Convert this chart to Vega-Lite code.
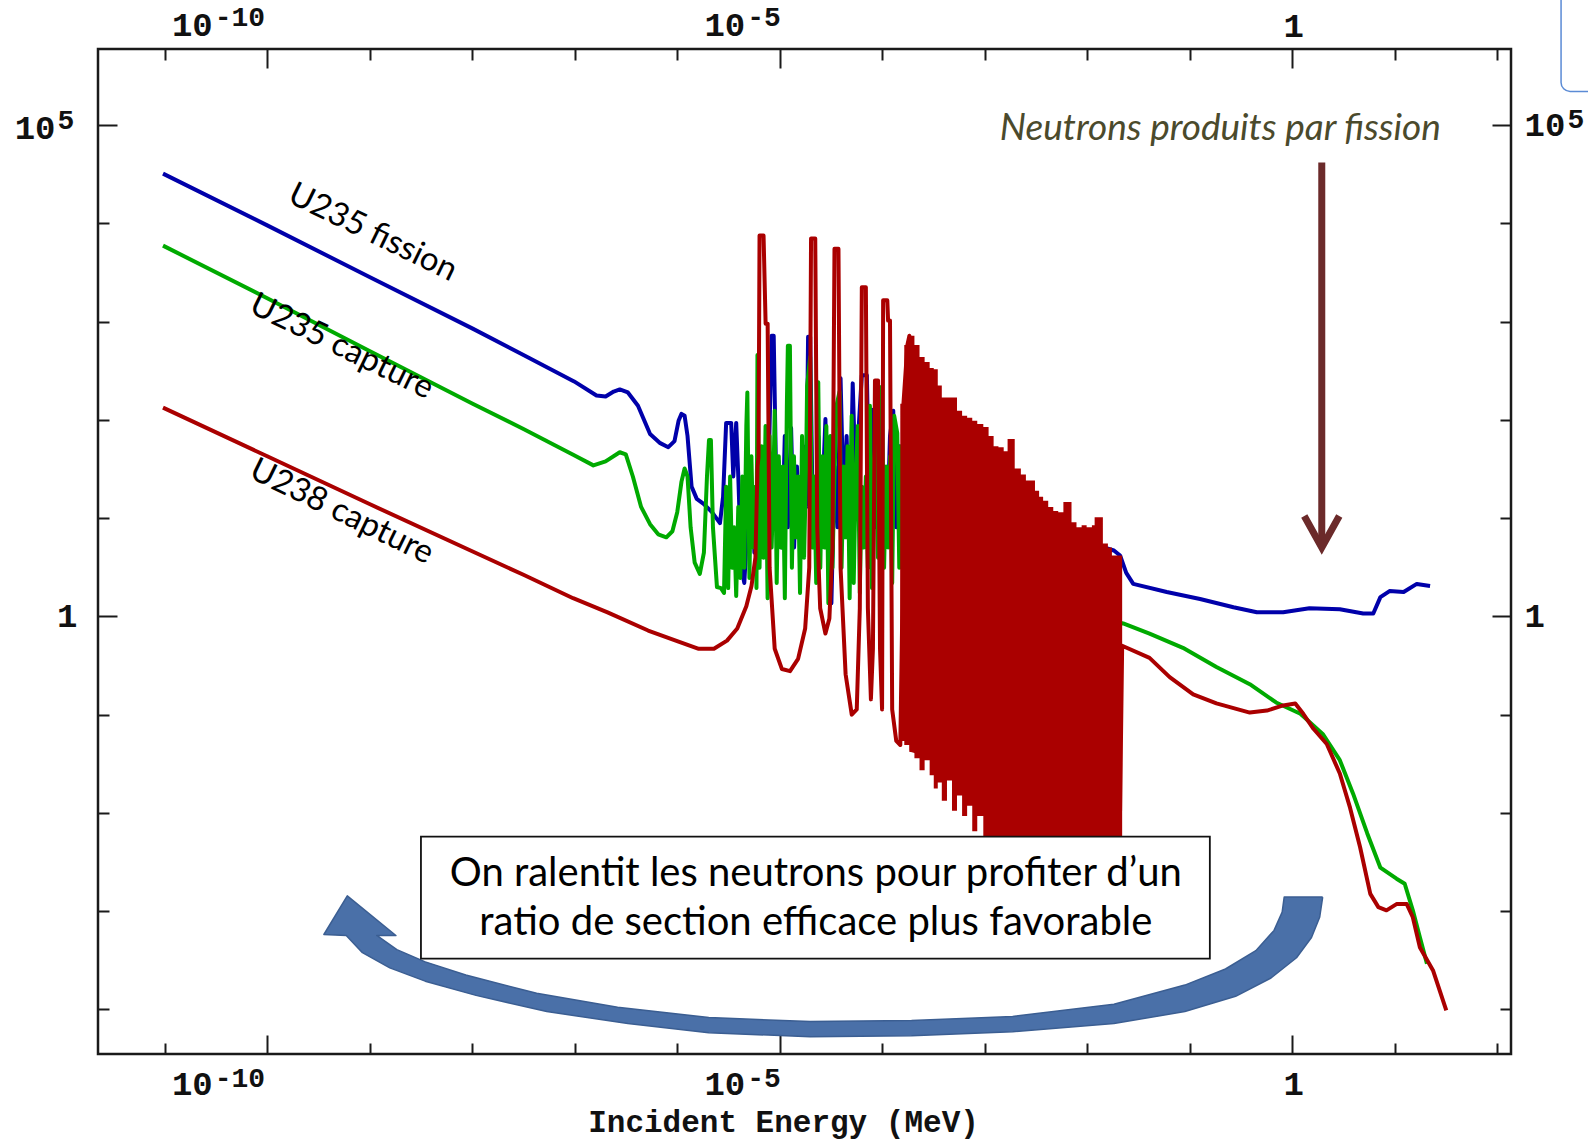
{
  "$schema": "https://vega.github.io/schema/vega-lite/v6.json",
  "width": 1413,
  "height": 1005,
  "autosize": {"type": "none"},
  "padding": {"left": 98, "top": 49, "right": 77, "bottom": 86},
  "background": "white",
  "config": {
    "view": {"stroke": "#1a1a1a", "strokeWidth": 2.5},
    "axis": {
      "grid": false,
      "domain": false,
      "tickColor": "#1a1a1a",
      "tickWidth": 2,
      "labelColor": "#111111",
      "labelFont": "Liberation Mono, DejaVu Sans Mono",
      "labelFontWeight": "bold",
      "labelFontSize": 34,
      "labelOverlap": false,
      "labelFlush": false
    }
  },
  "data": {"values": [{}]},
  "datasets": {
    "fission235": [
      {"energy": 9.62e-12, "sigma": 32000}, {"energy": 1.0e-10, "sigma": 9530}, {"energy": 9.95e-10, "sigma": 2840},
      {"energy": 1.01e-8, "sigma": 847}, {"energy": 3.16e-8, "sigma": 457}, {"energy": 9.86e-8, "sigma": 246},
      {"energy": 1.63e-7, "sigma": 177}, {"energy": 2.00e-7, "sigma": 173}, {"energy": 2.40e-7, "sigma": 194},
      {"energy": 2.75e-7, "sigma": 204}, {"energy": 3.30e-7, "sigma": 190}, {"energy": 4.14e-7, "sigma": 139},
      {"energy": 5.43e-7, "sigma": 71.8}, {"energy": 6.82e-7, "sigma": 57.9}, {"energy": 8.18e-7, "sigma": 52.7},
      {"energy": 9.40e-7, "sigma": 60.8}, {"energy": 1.03e-6, "sigma": 97.7}, {"energy": 1.10e-6, "sigma": 115},
      {"energy": 1.18e-6, "sigma": 110}, {"energy": 1.26e-6, "sigma": 68.4}, {"energy": 1.38e-6, "sigma": 20.9},
      {"energy": 1.55e-6, "sigma": 15.7}, {"energy": 1.82e-6, "sigma": 13.9}, {"energy": 2.18e-6, "sigma": 11.5},
      {"energy": 2.61e-6, "sigma": 8.88}, {"energy": 2.80e-6, "sigma": 16.5}, {"energy": 3.00e-6, "sigma": 93.1},
      {"energy": 3.36e-6, "sigma": 93.1}, {"energy": 3.52e-6, "sigma": 26.5}, {"energy": 3.76e-6, "sigma": 93.1},
      {"energy": 3.94e-6, "sigma": 26.5}, {"energy": 4.22e-6, "sigma": 3.13}, {"energy": 4.51e-6, "sigma": 2.19},
      {"energy": 4.83e-6, "sigma": 8.07}, {"energy": 5.30e-6, "sigma": 20.9}, {"energy": 5.66e-6, "sigma": 4.46},
      {"energy": 6.07e-6, "sigma": 26.5}, {"energy": 6.49e-6, "sigma": 6.37}, {"energy": 6.95e-6, "sigma": 33.6},
      {"energy": 7.45e-6, "sigma": 5.02}, {"energy": 7.96e-6, "sigma": 86.7}, {"energy": 8.34e-6, "sigma": 718},
      {"energy": 8.73e-6, "sigma": 718}, {"energy": 9.14e-6, "sigma": 42.6}, {"energy": 9.77e-6, "sigma": 37.8},
      {"energy": 1.05e-5, "sigma": 5.02}, {"energy": 1.12e-5, "sigma": 68.4}, {"energy": 1.20e-5, "sigma": 8.07},
      {"energy": 1.29e-5, "sigma": 82.8}, {"energy": 1.38e-5, "sigma": 5.02}, {"energy": 1.47e-5, "sigma": 33.6},
      {"energy": 1.58e-5, "sigma": 6.37}, {"energy": 1.69e-5, "sigma": 54.0}, {"energy": 1.81e-5, "sigma": 13.0},
      {"energy": 1.89e-5, "sigma": 700}, {"energy": 1.98e-5, "sigma": 700}, {"energy": 2.07e-5, "sigma": 26.5},
      {"energy": 2.22e-5, "sigma": 5.02}, {"energy": 2.38e-5, "sigma": 68.4}, {"energy": 2.54e-5, "sigma": 8.07},
      {"energy": 2.79e-5, "sigma": 102}, {"energy": 2.99e-5, "sigma": 5.02}, {"energy": 3.19e-5, "sigma": 1.36},
      {"energy": 3.42e-5, "sigma": 33.6}, {"energy": 3.66e-5, "sigma": 8.07}, {"energy": 3.92e-5, "sigma": 265},
      {"energy": 4.20e-5, "sigma": 13.0}, {"energy": 4.49e-5, "sigma": 68.4}, {"energy": 4.81e-5, "sigma": 6.37},
      {"energy": 5.15e-5, "sigma": 235}, {"energy": 5.51e-5, "sigma": 20.9}, {"energy": 5.90e-5, "sigma": 86.7},
      {"energy": 6.32e-5, "sigma": 284}, {"energy": 7.08e-5, "sigma": 284}, {"energy": 7.41e-5, "sigma": 20.9},
      {"energy": 7.93e-5, "sigma": 127}, {"energy": 8.49e-5, "sigma": 8.07}, {"energy": 9.10e-5, "sigma": 68.4},
      {"energy": 9.73e-5, "sigma": 13.0}, {"energy": 1.04e-4, "sigma": 33.6}, {"energy": 1.12e-4, "sigma": 8.07},
      {"energy": 1.19e-4, "sigma": 68.4}, {"energy": 1.28e-4, "sigma": 124}, {"energy": 1.37e-4, "sigma": 8.07},
      {"energy": 1.47e-4, "sigma": 54.0}, {"energy": 1.57e-4, "sigma": 10.2}, {"energy": 1.68e-4, "sigma": 86.7},
      {"energy": 1.80e-4, "sigma": 13.0}, {"energy": 6.01e-4, "sigma": 13.0}, {"energy": 1.87e-3, "sigma": 8.07},
      {"energy": 5.85e-3, "sigma": 6.37}, {"energy": 1.45e-2, "sigma": 5.02}, {"energy": 1.82e-2, "sigma": 4.68},
      {"energy": 2.09e-2, "sigma": 4.16}, {"energy": 2.40e-2, "sigma": 2.77}, {"energy": 2.81e-2, "sigma": 2.14},
      {"energy": 5.96e-2, "sigma": 1.77}, {"energy": 0.126, "sigma": 1.50}, {"energy": 0.267, "sigma": 1.24},
      {"energy": 0.451, "sigma": 1.10}, {"energy": 0.815, "sigma": 1.10}, {"energy": 1.47, "sigma": 1.21},
      {"energy": 2.91, "sigma": 1.18}, {"energy": 4.92, "sigma": 1.07}, {"energy": 6.17, "sigma": 1.07},
      {"energy": 7.24, "sigma": 1.57}, {"energy": 8.89, "sigma": 1.81}, {"energy": 12.2, "sigma": 1.77},
      {"energy": 16.4, "sigma": 2.14}, {"energy": 22.1, "sigma": 2.04}
    ],
    "capture235": [
      {"energy": 9.62e-12, "sigma": 5930}, {"energy": 1.0e-10, "sigma": 1726}, {"energy": 9.95e-10, "sigma": 502},
      {"energy": 1.01e-8, "sigma": 146}, {"energy": 3.16e-8, "sigma": 80.7}, {"energy": 9.86e-8, "sigma": 43.6},
      {"energy": 1.52e-7, "sigma": 34.4}, {"energy": 2.00e-7, "sigma": 37.8}, {"energy": 2.75e-7, "sigma": 46.8},
      {"energy": 3.15e-7, "sigma": 44.6}, {"energy": 3.69e-7, "sigma": 26.5}, {"energy": 4.44e-7, "sigma": 13.0},
      {"energy": 5.43e-7, "sigma": 8.67}, {"energy": 6.52e-7, "sigma": 6.84}, {"energy": 7.83e-7, "sigma": 6.37},
      {"energy": 8.97e-7, "sigma": 7.35}, {"energy": 1.00e-6, "sigma": 11.5}, {"energy": 1.10e-6, "sigma": 23.5},
      {"energy": 1.18e-6, "sigma": 32.0}, {"energy": 1.26e-6, "sigma": 26.5}, {"energy": 1.35e-6, "sigma": 8.07},
      {"energy": 1.48e-6, "sigma": 3.52}, {"energy": 1.66e-6, "sigma": 2.71}, {"energy": 1.82e-6, "sigma": 4.46},
      {"energy": 1.95e-6, "sigma": 26.5}, {"energy": 2.04e-6, "sigma": 62.2}, {"energy": 2.13e-6, "sigma": 62.2},
      {"energy": 2.23e-6, "sigma": 8.07}, {"energy": 2.44e-6, "sigma": 1.99}, {"energy": 2.67e-6, "sigma": 1.94},
      {"energy": 2.86e-6, "sigma": 1.73}, {"energy": 3.00e-6, "sigma": 20.9}, {"energy": 3.14e-6, "sigma": 1.94},
      {"energy": 3.28e-6, "sigma": 26.5}, {"energy": 3.43e-6, "sigma": 3.13}, {"energy": 3.59e-6, "sigma": 8.07},
      {"energy": 3.76e-6, "sigma": 1.61}, {"energy": 3.94e-6, "sigma": 13.0}, {"energy": 4.12e-6, "sigma": 2.46},
      {"energy": 4.31e-6, "sigma": 26.5}, {"energy": 4.51e-6, "sigma": 3.13}, {"energy": 4.72e-6, "sigma": 86.7},
      {"energy": 4.83e-6, "sigma": 190}, {"energy": 5.06e-6, "sigma": 2.46}, {"energy": 5.29e-6, "sigma": 42.6},
      {"energy": 5.54e-6, "sigma": 5.02}, {"energy": 5.79e-6, "sigma": 20.9}, {"energy": 5.93e-6, "sigma": 1.94},
      {"energy": 6.06e-6, "sigma": 457}, {"energy": 6.35e-6, "sigma": 3.13}, {"energy": 6.64e-6, "sigma": 54.0},
      {"energy": 6.95e-6, "sigma": 3.96}, {"energy": 7.27e-6, "sigma": 86.7}, {"energy": 7.61e-6, "sigma": 1.53},
      {"energy": 7.97e-6, "sigma": 68.4}, {"energy": 8.34e-6, "sigma": 5.02}, {"energy": 8.73e-6, "sigma": 33.6},
      {"energy": 8.93e-6, "sigma": 124}, {"energy": 9.34e-6, "sigma": 2.19}, {"energy": 9.78e-6, "sigma": 42.6},
      {"energy": 1.023e-5, "sigma": 5.02}, {"energy": 1.071e-5, "sigma": 33.6}, {"energy": 1.121e-5, "sigma": 1.53},
      {"energy": 1.173e-5, "sigma": 139}, {"energy": 1.200e-5, "sigma": 566}, {"energy": 1.256e-5, "sigma": 566},
      {"energy": 1.314e-5, "sigma": 3.13}, {"energy": 1.376e-5, "sigma": 42.6}, {"energy": 1.440e-5, "sigma": 6.37},
      {"energy": 1.507e-5, "sigma": 26.5}, {"energy": 1.577e-5, "sigma": 1.73}, {"energy": 1.650e-5, "sigma": 68.4},
      {"energy": 1.727e-5, "sigma": 3.96}, {"energy": 1.807e-5, "sigma": 33.6}, {"energy": 1.849e-5, "sigma": 224},
      {"energy": 1.980e-5, "sigma": 436}, {"energy": 2.072e-5, "sigma": 5.02}, {"energy": 2.168e-5, "sigma": 26.5},
      {"energy": 2.269e-5, "sigma": 2.19}, {"energy": 2.375e-5, "sigma": 241}, {"energy": 2.486e-5, "sigma": 3.13},
      {"energy": 2.602e-5, "sigma": 42.6}, {"energy": 2.722e-5, "sigma": 5.02}, {"energy": 2.849e-5, "sigma": 86.7},
      {"energy": 2.981e-5, "sigma": 1.36}, {"energy": 3.120e-5, "sigma": 68.4}, {"energy": 3.266e-5, "sigma": 3.13},
      {"energy": 3.418e-5, "sigma": 26.5}, {"energy": 3.577e-5, "sigma": 139}, {"energy": 3.830e-5, "sigma": 194},
      {"energy": 4.008e-5, "sigma": 3.13}, {"energy": 4.195e-5, "sigma": 33.6}, {"energy": 4.390e-5, "sigma": 6.37},
      {"energy": 4.594e-5, "sigma": 54.0}, {"energy": 4.808e-5, "sigma": 1.53}, {"energy": 5.031e-5, "sigma": 110},
      {"energy": 5.266e-5, "sigma": 2.19}, {"energy": 5.511e-5, "sigma": 26.5}, {"energy": 5.768e-5, "sigma": 86.7},
      {"energy": 6.036e-5, "sigma": 1.73}, {"energy": 6.317e-5, "sigma": 20.9}, {"energy": 6.611e-5, "sigma": 5.02},
      {"energy": 6.918e-5, "sigma": 26.5}, {"energy": 7.241e-5, "sigma": 3.13}, {"energy": 7.577e-5, "sigma": 139},
      {"energy": 7.929e-5, "sigma": 1.94}, {"energy": 8.300e-5, "sigma": 33.6}, {"energy": 8.687e-5, "sigma": 68.4},
      {"energy": 9.091e-5, "sigma": 3.96}, {"energy": 9.301e-5, "sigma": 214}, {"energy": 9.956e-5, "sigma": 214},
      {"energy": 1.042e-4, "sigma": 3.13}, {"energy": 1.091e-4, "sigma": 33.6}, {"energy": 1.141e-4, "sigma": 5.02},
      {"energy": 1.195e-4, "sigma": 42.6}, {"energy": 1.250e-4, "sigma": 2.19}, {"energy": 1.308e-4, "sigma": 110},
      {"energy": 1.401e-4, "sigma": 73.5}, {"energy": 1.466e-4, "sigma": 3.13}, {"energy": 1.534e-4, "sigma": 54.0},
      {"energy": 1.605e-4, "sigma": 3.96}, {"energy": 1.680e-4, "sigma": 26.5}, {"energy": 1.719e-4, "sigma": 1.21},
      {"energy": 6.01e-4, "sigma": 1.53}, {"energy": 1.87e-3, "sigma": 1.21}, {"energy": 5.85e-3, "sigma": 1.00},
      {"energy": 1.82e-2, "sigma": 0.888}, {"energy": 2.24e-2, "sigma": 0.847}, {"energy": 4.05e-2, "sigma": 0.668},
      {"energy": 8.57e-2, "sigma": 0.479}, {"energy": 0.182, "sigma": 0.305}, {"energy": 0.385, "sigma": 0.204},
      {"energy": 0.695, "sigma": 0.133}, {"energy": 1.20, "sigma": 0.102}, {"energy": 1.98, "sigma": 0.0637},
      {"energy": 2.91, "sigma": 0.0344}, {"energy": 3.92, "sigma": 0.0157}, {"energy": 5.38, "sigma": 0.00622},
      {"energy": 7.24, "sigma": 0.00277}, {"energy": 10.4, "sigma": 0.00214}, {"energy": 12.5, "sigma": 0.00190},
      {"energy": 15.0, "sigma": 0.00102}, {"energy": 17.6, "sigma": 0.00054}, {"energy": 20.6, "sigma": 0.000291}
    ],
    "capture238": [
      {"energy": 9.62e-12, "sigma": 133}, {"energy": 1.0e-10, "sigma": 42.6}, {"energy": 9.95e-10, "sigma": 13.9},
      {"energy": 1.01e-8, "sigma": 4.57}, {"energy": 3.16e-8, "sigma": 2.65}, {"energy": 9.64e-8, "sigma": 1.53},
      {"energy": 2.09e-7, "sigma": 1.10}, {"energy": 5.20e-7, "sigma": 0.718}, {"energy": 1.03e-6, "sigma": 0.552},
      {"energy": 1.62e-6, "sigma": 0.468}, {"energy": 2.28e-6, "sigma": 0.468}, {"energy": 3.06e-6, "sigma": 0.566},
      {"energy": 3.85e-6, "sigma": 0.752}, {"energy": 4.72e-6, "sigma": 1.27}, {"energy": 5.30e-6, "sigma": 2.04},
      {"energy": 5.79e-6, "sigma": 3.96}, {"energy": 6.07e-6, "sigma": 33.6}, {"energy": 6.21e-6, "sigma": 41.6},
      {"energy": 6.35e-6, "sigma": 7520}, {"energy": 6.95e-6, "sigma": 7520}, {"energy": 7.28e-6, "sigma": 953},
      {"energy": 7.62e-6, "sigma": 953}, {"energy": 7.96e-6, "sigma": 3.13}, {"energy": 8.93e-6, "sigma": 0.468},
      {"energy": 1.05e-5, "sigma": 0.291}, {"energy": 1.26e-5, "sigma": 0.277}, {"energy": 1.51e-5, "sigma": 0.369},
      {"energy": 1.77e-5, "sigma": 0.752}, {"energy": 1.94e-5, "sigma": 3.13}, {"energy": 2.02e-5, "sigma": 7000},
      {"energy": 2.22e-5, "sigma": 7000}, {"energy": 2.32e-5, "sigma": 8.07}, {"energy": 2.48e-5, "sigma": 1.21},
      {"energy": 2.79e-5, "sigma": 0.668}, {"energy": 3.05e-5, "sigma": 0.953}, {"energy": 3.27e-5, "sigma": 5.02},
      {"energy": 3.42e-5, "sigma": 5520}, {"energy": 3.74e-5, "sigma": 5520}, {"energy": 3.92e-5, "sigma": 3.13},
      {"energy": 4.39e-5, "sigma": 0.258}, {"energy": 5.04e-5, "sigma": 0.100}, {"energy": 5.64e-5, "sigma": 0.113},
      {"energy": 6.04e-5, "sigma": 1.21}, {"energy": 6.32e-5, "sigma": 2240}, {"energy": 6.92e-5, "sigma": 2240},
      {"energy": 7.24e-5, "sigma": 1.21}, {"energy": 7.75e-5, "sigma": 0.143}, {"energy": 8.11e-5, "sigma": 0.468},
      {"energy": 8.49e-5, "sigma": 252}, {"energy": 9.10e-5, "sigma": 252}, {"energy": 9.51e-5, "sigma": 0.468},
      {"energy": 9.96e-5, "sigma": 0.113}, {"energy": 1.02e-4, "sigma": 1645}, {"energy": 1.12e-4, "sigma": 1645},
      {"energy": 1.14e-4, "sigma": 1023}, {"energy": 1.19e-4, "sigma": 1023}, {"energy": 1.25e-4, "sigma": 0.113},
      {"energy": 1.37e-4, "sigma": 0.054}, {"energy": 1.50e-4, "sigma": 0.0491}, {"energy": 1.57e-4, "sigma": 1.21},
      {"energy": 1.61e-4, "sigma": 146}, {"energy": 1.76e-4, "sigma": 579}, {"energy": 1.84e-4, "sigma": 718},
      {"energy": 1.93e-4, "sigma": 0.0436}, {"energy": 2.09e-2, "sigma": 0.0105}, {"energy": 2.19e-2, "sigma": 0.502},
      {"energy": 4.05e-2, "sigma": 0.378}, {"energy": 6.37e-2, "sigma": 0.241}, {"energy": 0.108, "sigma": 0.161},
      {"energy": 0.182, "sigma": 0.130}, {"energy": 0.385, "sigma": 0.105}, {"energy": 0.566, "sigma": 0.110},
      {"energy": 0.815, "sigma": 0.124}, {"energy": 1.07, "sigma": 0.130}, {"energy": 1.28, "sigma": 0.102},
      {"energy": 1.61, "sigma": 0.0718}, {"energy": 2.17, "sigma": 0.0502}, {"energy": 2.91, "sigma": 0.0252},
      {"energy": 3.66, "sigma": 0.0113}, {"energy": 4.59, "sigma": 0.00447}, {"energy": 5.77, "sigma": 0.0015},
      {"energy": 6.92, "sigma": 0.0011}, {"energy": 8.30, "sigma": 0.00102}, {"energy": 10.4, "sigma": 0.00118},
      {"energy": 13.1, "sigma": 0.00118}, {"energy": 15.0, "sigma": 0.000867}, {"energy": 17.6, "sigma": 0.000426},
      {"energy": 23.7, "sigma": 0.000247}, {"energy": 31.8, "sigma": 0.0000977}
    ],
    "capture238Resonances": [
      {"energy": 1.50e-4, "sigmaMax": 146, "sigmaMin": 0.054}, {"energy": 1.64e-4, "sigmaMax": 579, "sigmaMin": 0.0491},
      {"energy": 1.84e-4, "sigmaMax": 718, "sigmaMin": 0.0416}, {"energy": 2.06e-4, "sigmaMax": 579, "sigmaMin": 0.036},
      {"energy": 2.31e-4, "sigmaMax": 436, "sigmaMin": 0.0271}, {"energy": 2.59e-4, "sigmaMax": 387, "sigmaMin": 0.0344},
      {"energy": 2.90e-4, "sigmaMax": 336, "sigmaMin": 0.0241}, {"energy": 3.18e-4, "sigmaMax": 328, "sigmaMin": 0.0177},
      {"energy": 3.48e-4, "sigmaMax": 224, "sigmaMin": 0.0204}, {"energy": 3.81e-4, "sigmaMax": 169, "sigmaMin": 0.0133},
      {"energy": 4.28e-4, "sigmaMax": 169, "sigmaMin": 0.0214}, {"energy": 4.79e-4, "sigmaMax": 169, "sigmaMin": 0.0105},
      {"energy": 5.36e-4, "sigmaMax": 124, "sigmaMin": 0.015}, {"energy": 6.01e-4, "sigmaMax": 110, "sigmaMin": 0.00931},
      {"energy": 6.73e-4, "sigmaMax": 105, "sigmaMin": 0.0118}, {"energy": 7.55e-4, "sigmaMax": 97.7, "sigmaMin": 0.00652},
      {"energy": 8.45e-4, "sigmaMax": 90.9, "sigmaMin": 0.00931}, {"energy": 9.68e-4, "sigmaMax": 84.7, "sigmaMin": 0.0036},
      {"energy": 1.09e-3, "sigmaMax": 68.4, "sigmaMin": 0.00199}, {"energy": 1.22e-3, "sigmaMax": 54.0, "sigmaMin": 0.00157},
      {"energy": 1.36e-3, "sigmaMax": 52.7, "sigmaMin": 0.00199}, {"energy": 1.53e-3, "sigmaMax": 47.9, "sigmaMin": 0.00124},
      {"energy": 1.67e-3, "sigmaMax": 63.7, "sigmaMin": 0.00157}, {"energy": 1.83e-3, "sigmaMax": 63.7, "sigmaMin": 0.000977},
      {"energy": 1.96e-3, "sigmaMax": 32.0, "sigmaMin": 0.00157}, {"energy": 2.25e-3, "sigmaMax": 27.7, "sigmaMin": 0.000977},
      {"energy": 2.52e-3, "sigmaMax": 24.1, "sigmaMin": 0.00124}, {"energy": 2.76e-3, "sigmaMax": 24.1, "sigmaMin": 0.000867},
      {"energy": 3.09e-3, "sigmaMax": 19.0, "sigmaMin": 0.00124}, {"energy": 3.39e-3, "sigmaMax": 16.5, "sigmaMin": 0.000771},
      {"energy": 3.71e-3, "sigmaMax": 15.0, "sigmaMin": 0.0011}, {"energy": 4.16e-3, "sigmaMax": 13.0, "sigmaMin": 0.000867},
      {"energy": 4.66e-3, "sigmaMax": 11.8, "sigmaMin": 0.00124}, {"energy": 5.21e-3, "sigmaMax": 11.5, "sigmaMin": 0.000771},
      {"energy": 5.85e-3, "sigmaMax": 14.6, "sigmaMin": 0.000977}, {"energy": 6.55e-3, "sigmaMax": 14.6, "sigmaMin": 0.000684},
      {"energy": 7.02e-3, "sigmaMax": 9.10, "sigmaMin": 0.0011}, {"energy": 7.85e-3, "sigmaMax": 8.07, "sigmaMin": 0.000771},
      {"energy": 8.81e-3, "sigmaMax": 8.47, "sigmaMin": 0.000977}, {"energy": 9.86e-3, "sigmaMax": 8.07, "sigmaMin": 0.000684},
      {"energy": 1.11e-2, "sigmaMax": 8.47, "sigmaMin": 0.000977}, {"energy": 1.18e-2, "sigmaMax": 10.2, "sigmaMin": 0.000771},
      {"energy": 1.30e-2, "sigmaMax": 10.2, "sigmaMin": 0.000977}, {"energy": 1.42e-2, "sigmaMax": 5.52, "sigmaMin": 0.000684},
      {"energy": 1.59e-2, "sigmaMax": 5.02, "sigmaMin": 0.000867}, {"energy": 1.74e-2, "sigmaMax": 4.16, "sigmaMin": 0.000684},
      {"energy": 1.95e-2, "sigmaMax": 4.16, "sigmaMin": 0.000977}, {"energy": 2.19e-2, "sigmaMax": 4.16, "sigmaMin": 0.000977}
    ],
    "slowingArrow": [
      {"step": 1, "energy": 1.98, "sigma": 1.39e-3}, {"step": 2, "energy": 1.85, "sigma": 8.67e-4},
      {"step": 3, "energy": 1.54, "sigma": 5.40e-4}, {"step": 4, "energy": 1.10, "sigma": 3.36e-4},
      {"step": 5, "energy": 0.620, "sigma": 2.09e-4}, {"step": 6, "energy": 0.280, "sigma": 1.36e-4},
      {"step": 7, "energy": 8.96e-2, "sigma": 9.53e-5}, {"step": 8, "energy": 1.82e-2, "sigma": 7.18e-5},
      {"step": 9, "energy": 1.87e-3, "sigma": 5.93e-5}, {"step": 10, "energy": 1.93e-4, "sigma": 5.40e-5},
      {"step": 11, "energy": 1.98e-5, "sigma": 5.27e-5}, {"step": 12, "energy": 2.03e-6, "sigma": 5.79e-5},
      {"step": 13, "energy": 3.30e-7, "sigma": 7.18e-5}, {"step": 14, "energy": 5.33e-8, "sigma": 9.53e-5},
      {"step": 15, "energy": 1.09e-8, "sigma": 1.39e-4}, {"step": 16, "energy": 3.48e-9, "sigma": 1.94e-4},
      {"step": 17, "energy": 1.57e-9, "sigma": 2.65e-4}, {"step": 18, "energy": 8.49e-10, "sigma": 3.78e-4},
      {"step": 19, "energy": 5.90e-10, "sigma": 5.66e-4}, {"step": 20, "energy": 3.57e-10, "sigma": 5.79e-4},
      {"step": 21, "energy": 6.04e-10, "sigma": 1.43e-3}, {"step": 22, "energy": 1.80e-9, "sigma": 5.66e-4},
      {"step": 23, "energy": 1.17e-9, "sigma": 5.66e-4}, {"step": 24, "energy": 1.84e-9, "sigma": 4.06e-4},
      {"step": 25, "energy": 3.48e-9, "sigma": 3.05e-4}, {"step": 26, "energy": 8.65e-9, "sigma": 2.24e-4},
      {"step": 27, "energy": 4.25e-8, "sigma": 1.46e-4}, {"step": 28, "energy": 2.62e-7, "sigma": 1.05e-4},
      {"step": 29, "energy": 2.03e-6, "sigma": 8.27e-5}, {"step": 30, "energy": 1.98e-5, "sigma": 7.52e-5},
      {"step": 31, "energy": 1.93e-4, "sigma": 7.71e-5}, {"step": 32, "energy": 1.87e-3, "sigma": 8.47e-5},
      {"step": 33, "energy": 1.82e-2, "sigma": 1.13e-4}, {"step": 34, "energy": 8.96e-2, "sigma": 1.77e-4},
      {"step": 35, "energy": 0.223, "sigma": 2.58e-4}, {"step": 36, "energy": 0.441, "sigma": 3.96e-4},
      {"step": 37, "energy": 0.664, "sigma": 6.37e-4}, {"step": 38, "energy": 0.797, "sigma": 9.77e-4},
      {"step": 39, "energy": 0.834, "sigma": 1.39e-3}, {"step": 40, "energy": 1.98, "sigma": 1.39e-3}
    ]
  },
  "resolve": {"axis": {"x": "independent", "y": "independent"}},
  "layer": [
    {
      "data": {"name": "fission235"},
      "mark": {"type": "line", "color": "#0000AA", "strokeWidth": 4, "strokeJoin": "round"},
      "encoding": {
        "x": {"field": "energy", "type": "quantitative",
              "scale": {"type": "log", "domain": [2.234e-12, 136.1], "nice": false},
              "axis": {"orient": "bottom", "values": [1e-10, 1e-5, 1], "tickSize": -19, "labelPadding": 59,
                       "labelBaseline": "alphabetic", "labelAlign": "center", "labelOffset": 1,
                       "labelExpr": "datum.value > 0.1 ? '1' : ''",
                       "title": "Incident Energy (MeV)", "titleFont": "Liberation Mono, DejaVu Sans Mono",
                       "titleFontWeight": "bold", "titleFontSize": 31, "titleColor": "#111111",
                       "titleX": 685, "titleY": 77, "titleBaseline": "alphabetic", "titleAlign": "center"}},
        "y": {"field": "sigma", "type": "quantitative",
              "scale": {"type": "log", "domain": [3.52e-5, 5.94e5], "nice": false},
              "axis": {"orient": "left", "values": [1, 100000], "tickSize": -19, "labelPadding": 40,
                       "labelAlign": "right", "labelBaseline": "middle",
                       "labelExpr": "datum.value > 10 ? '' : '1'", "title": null}}
      }
    },
    {
      "data": {"name": "capture235"},
      "mark": {"type": "line", "color": "#00AA00", "strokeWidth": 4, "strokeJoin": "round"},
      "encoding": {
        "x": {"field": "energy", "type": "quantitative",
              "scale": {"type": "log", "domain": [2.234e-12, 136.1], "nice": false},
              "axis": {"orient": "bottom", "values": [1e-11, 1e-9, 1e-8, 1e-7, 1e-6, 1e-4, 1e-3, 0.01, 0.1, 10, 100],
                       "tickSize": -11, "labels": false, "title": null}},
        "y": {"field": "sigma", "type": "quantitative",
              "scale": {"type": "log", "domain": [3.52e-5, 5.94e5], "nice": false},
              "axis": {"orient": "left", "values": [1e-4, 1e-3, 0.01, 0.1, 10, 100, 1000, 10000],
                       "tickSize": -11, "labels": false, "title": null}}
      }
    },
    {
      "data": {"name": "capture238"},
      "mark": {"type": "line", "color": "#AA0000", "strokeWidth": 4, "strokeJoin": "round"},
      "encoding": {
        "x": {"field": "energy", "type": "quantitative",
              "scale": {"type": "log", "domain": [2.234e-12, 136.1], "nice": false},
              "axis": {"orient": "top", "values": [1e-10, 1e-5, 1], "tickSize": -19, "labelPadding": 32,
                       "labelBaseline": "alphabetic", "labelAlign": "center", "labelOffset": 1,
                       "labelExpr": "datum.value > 0.1 ? '1' : ''", "title": null}},
        "y": {"field": "sigma", "type": "quantitative",
              "scale": {"type": "log", "domain": [3.52e-5, 5.94e5], "nice": false},
              "axis": {"orient": "right", "values": [1, 100000], "tickSize": -19, "labelPadding": 32,
                       "labelAlign": "left", "labelBaseline": "middle",
                       "labelExpr": "datum.value > 10 ? '10' : '1'", "title": null}}
      }
    },
    {
      "data": {"name": "capture238Resonances"},
      "mark": {"type": "area", "color": "#AA0000", "interpolate": "step-after", "opacity": 1},
      "encoding": {
        "x": {"field": "energy", "type": "quantitative",
              "scale": {"type": "log", "domain": [2.234e-12, 136.1], "nice": false},
              "axis": {"orient": "top", "values": [1e-11, 1e-9, 1e-8, 1e-7, 1e-6, 1e-4, 1e-3, 0.01, 0.1, 10, 100],
                       "tickSize": -11, "labels": false, "title": null}},
        "y": {"field": "sigmaMax", "type": "quantitative",
              "scale": {"type": "log", "domain": [3.52e-5, 5.94e5], "nice": false},
              "axis": {"orient": "right", "values": [1e-4, 1e-3, 0.01, 0.1, 10, 100, 1000, 10000],
                       "tickSize": -11, "labels": false, "title": null}},
        "y2": {"field": "sigmaMin"}
      }
    },
    {
      "data": {"name": "slowingArrow"},
      "mark": {"type": "line", "fill": "#4A70A8", "stroke": "#3B5E92", "strokeWidth": 1.5, "strokeJoin": "round"},
      "encoding": {
        "x": {"field": "energy", "type": "quantitative",
              "axis": {"orient": "top", "values": [1e-10, 1e-5], "ticks": false, "tickSize": 0, "labelPadding": 14,
                       "labelExpr": "'10'", "labelAlign": "right", "labelBaseline": "alphabetic",
                       "labelOffset": {"condition": {"test": "datum.value < 1e-7", "value": -55}, "value": -35},
                       "title": null}},
        "y": {"field": "sigma", "type": "quantitative",
              "axis": {"orient": "left", "values": [100000], "ticks": false, "tickSize": 0, "labelPadding": 41,
                       "labelExpr": "'5'", "labelFontSize": 28, "labelAlign": "left", "labelOffset": 3,
                       "labelBaseline": "alphabetic", "title": null}},
        "order": {"field": "step", "type": "quantitative"}
      }
    },
    {
      "mark": {"type": "rect", "fill": "white", "stroke": "#111111", "strokeWidth": 1.8},
      "encoding": {
        "x": {"datum": 3.16e-9, "type": "quantitative",
              "axis": {"orient": "top", "values": [1e-10, 1e-5], "ticks": false, "tickSize": 0, "labelPadding": 24,
                       "labelExpr": "datum.value < 1e-7 ? '-10' : '-5'", "labelFontSize": 28, "labelAlign": "left",
                       "labelOffset": {"condition": {"test": "datum.value < 1e-7", "value": -53}, "value": -33},
                       "labelBaseline": "alphabetic", "title": null}},
        "x2": {"datum": 0.157},
        "y": {"datum": 5.74e-3, "type": "quantitative",
              "axis": {"orient": "right", "values": [100000], "ticks": false, "tickSize": 0, "labelPadding": 56,
                       "labelExpr": "'5'", "labelFontSize": 28, "labelAlign": "left", "labelOffset": 2,
                       "labelBaseline": "alphabetic", "title": null}},
        "y2": {"datum": 3.29e-4}
      }
    },
    {
      "mark": {"type": "text", "text": ["On ralentit les neutrons pour profiter d’un", "ratio de section efficace plus favorable"],
               "font": "Lato", "fontSize": 40, "align": "center", "baseline": "alphabetic", "lineHeight": 49, "color": "#000000"},
      "encoding": {
        "x": {"datum": 2.25e-5, "type": "quantitative",
              "axis": {"orient": "bottom", "values": [1e-10, 1e-5], "ticks": false, "tickSize": 0, "labelPadding": 32,
                       "labelExpr": "datum.value < 1e-7 ? '-10' : '-5'", "labelFontSize": 28, "labelAlign": "left",
                       "labelOffset": {"condition": {"test": "datum.value < 1e-7", "value": -53}, "value": -33},
                       "labelBaseline": "alphabetic", "title": null}},
        "y": {"datum": 1.82e-3, "type": "quantitative", "axis": null}
      }
    },
    {
      "mark": {"type": "text", "text": "U235 fission", "font": "Lato", "fontSize": 33, "angle": 26,
               "align": "center", "baseline": "middle", "color": "#000000"},
      "encoding": {
        "x": {"datum": 1.07e-9, "type": "quantitative",
              "axis": {"orient": "bottom", "values": [1e-10, 1e-5], "ticks": false, "tickSize": 0, "labelPadding": 40,
                       "labelExpr": "'10'", "labelAlign": "right", "labelBaseline": "alphabetic",
                       "labelOffset": {"condition": {"test": "datum.value < 1e-7", "value": -55}, "value": -35},
                       "title": null}},
        "y": {"datum": 8070, "type": "quantitative", "axis": null}
      }
    },
    {
      "mark": {"type": "text", "text": "U235 capture", "font": "Lato", "fontSize": 33, "angle": 26,
               "align": "center", "baseline": "middle", "color": "#000000"},
      "encoding": {
        "x": {"datum": 5.33e-10, "type": "quantitative", "axis": null},
        "y": {"datum": 557, "type": "quantitative",
              "axis": {"orient": "left", "values": [100000], "ticks": false, "tickSize": 0, "labelPadding": 43,
                       "labelExpr": "'10'", "labelAlign": "right", "labelBaseline": "middle", "labelOffset": 3,
                       "title": null}}
      }
    },
    {
      "mark": {"type": "text", "text": "U238 capture", "font": "Lato", "fontSize": 33, "angle": 26,
               "align": "center", "baseline": "middle", "color": "#000000"},
      "encoding": {
        "x": {"datum": 5.33e-10, "type": "quantitative", "axis": null},
        "y": {"datum": 11.6, "type": "quantitative", "axis": null}
      }
    },
    {
      "mark": {"type": "text", "text": "Neutrons produits par fission", "font": "Lato", "fontStyle": "italic",
               "fontSize": 37, "align": "center", "baseline": "alphabetic", "color": "#4B4A2C"},
      "encoding": {
        "x": {"datum": 0.199, "type": "quantitative", "axis": null},
        "y": {"datum": 69700, "type": "quantitative", "axis": null}
      }
    },
    {
      "mark": {"type": "rule", "color": "#6B2A2A", "strokeWidth": 7},
      "encoding": {
        "x": {"datum": 1.94, "type": "quantitative", "axis": null},
        "y": {"datum": 41600, "type": "quantitative", "axis": null},
        "y2": {"datum": 5.66}
      }
    },
    {
      "mark": {"type": "point", "shape": "M-1,-1.8L0,0L1,-1.8", "filled": false, "stroke": "#6B2A2A",
               "strokeWidth": 7, "size": 1225, "opacity": 1, "strokeJoin": "miter", "strokeCap": "butt"},
      "encoding": {
        "x": {"datum": 1.94, "type": "quantitative", "axis": null},
        "y": {"datum": 5.02, "type": "quantitative", "axis": null}
      }
    },
    {
      "mark": {"type": "rect", "fillOpacity": 0, "stroke": "#5B8BD5", "strokeWidth": 1.5, "cornerRadius": 9},
      "encoding": {
        "x": {"datum": 419, "type": "quantitative", "axis": null},
        "x2": {"datum": 1995},
        "y": {"datum": 220000, "type": "quantitative", "axis": null},
        "y2": {"datum": 100000000}
      }
    }
  ]
}
